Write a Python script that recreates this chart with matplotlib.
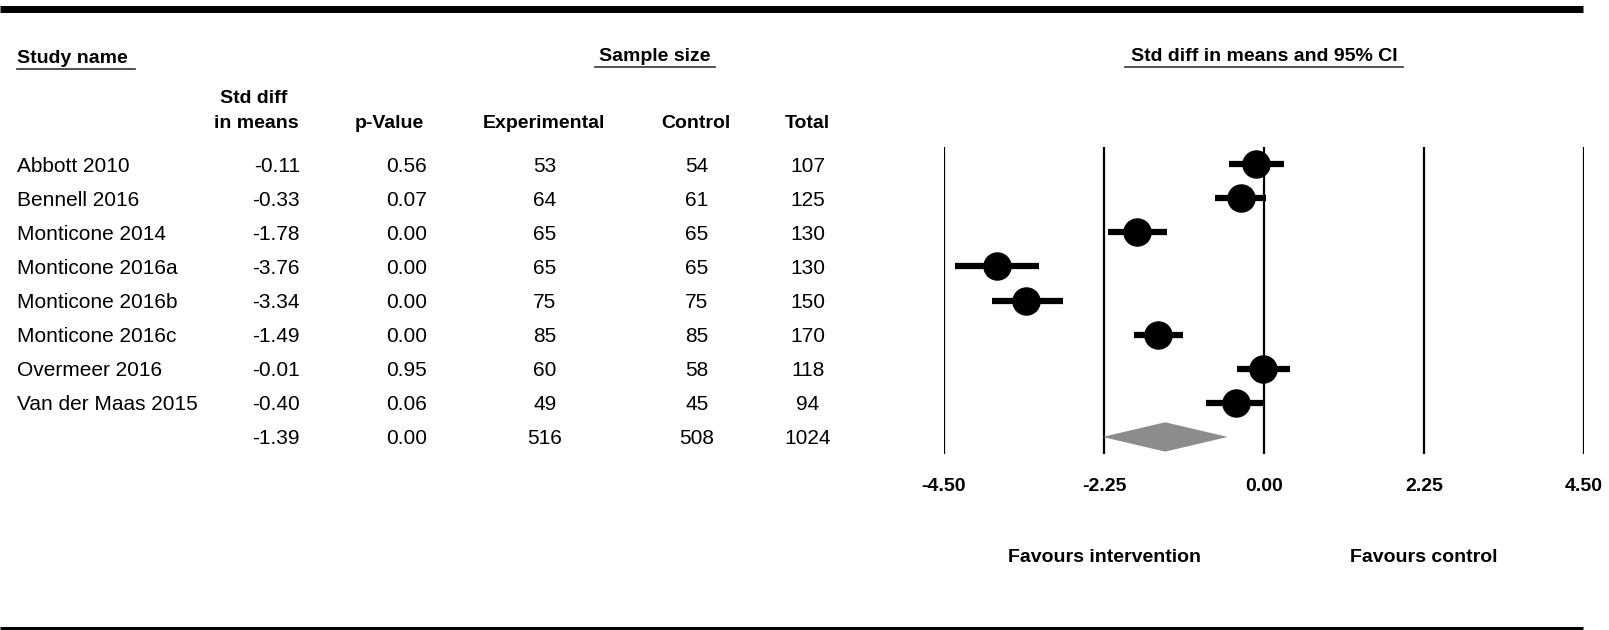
import numpy as np
import matplotlib.pyplot as plt
from matplotlib.patches import Polygon
from matplotlib.transforms import blended_transform_factory

plt.rcParams['font.family'] = ['Liberation Sans', 'DejaVu Sans']

# study level results
studies = ['Abbott 2010', 'Bennell 2016', 'Monticone 2014', 'Monticone 2016a',
           'Monticone 2016b', 'Monticone 2016c', 'Overmeer 2016', 'Van der Maas 2015']
smd = [-0.11, -0.33, -1.78, -3.76, -3.34, -1.49, -0.01, -0.40]
ci_lo = [-0.49, -0.69, -2.19, -4.34, -3.83, -1.83, -0.38, -0.81]
ci_hi = [0.28, 0.03, -1.36, -3.16, -2.83, -1.14, 0.36, 0.01]
p_vals = [0.56, 0.07, 0.00, 0.00, 0.00, 0.00, 0.95, 0.06]
n_exp = [53, 64, 65, 65, 75, 85, 60, 49]
n_ctl = [54, 61, 65, 65, 75, 85, 58, 45]

# pooled estimate
pooled_smd = -1.39
pooled_lo = -2.27
pooled_hi = -0.51
pooled_p = 0.00

ticks = [-4.5, -2.25, 0.0, 2.25, 4.5]
tick_labels = ['-4.50', '-2.25', '0.00', '2.25', '4.50']

W, H = 1609, 630
fig = plt.figure(figsize=(W / 100, H / 100), dpi=100)

# page axes in pixel units for the table and rules
ax = fig.add_axes([0, 0, 1, 1])
ax.set_xlim(0, W)
ax.set_ylim(H, 0)
ax.axis('off')

# forest panel
px0, px1, py0, py1 = 944, 1584, 147, 454
fx = fig.add_axes([px0 / W, 1 - py1 / H, (px1 - px0) / W, (py1 - py0) / H])
n_rows = len(studies) + 1
fx.set_xlim(-4.5, 4.5)
fx.set_ylim(n_rows - 0.5, -0.5)
fx.patch.set_visible(False)
for s in fx.spines.values():
    s.set_visible(False)
fx.set_yticks([])
fx.set_xticks(ticks)
fx.set_xticklabels(tick_labels, fontweight='bold', fontsize=14)
fx.tick_params(axis='x', length=0, pad=17)

for t in ticks:
    fx.axvline(t, color='black', lw=1.6, zorder=1)

rows = np.arange(len(studies))
fx.hlines(rows, ci_lo, ci_hi, color='black', lw=4.5, zorder=3, clip_on=False)
fx.plot(smd, rows, 'o', color='black', ms=19.5, zorder=4, clip_on=False)

k = len(studies)
diamond = Polygon([[pooled_lo, k], [pooled_smd, k - 0.43],
                   [pooled_hi, k], [pooled_smd, k + 0.43]],
                  closed=True, facecolor='#8c8c8c', edgecolor='none', zorder=2)
fx.add_patch(diamond)

# favours labels under the axis
tr = blended_transform_factory(fx.transData, ax.transData)
fx.text(-2.25, 561.5, 'Favours intervention', transform=tr, ha='center',
        va='baseline', fontsize=14, fontweight='bold')
fx.text(2.25, 561.5, 'Favours control', transform=tr, ha='center',
        va='baseline', fontsize=14, fontweight='bold')

# rules
ax.plot([0, 1583], [9, 9], color='black', lw=5, solid_capstyle='butt')
ax.plot([0, 1583], [627.5, 627.5], color='black', lw=2.2, solid_capstyle='butt')

# headers
hdr = dict(fontsize=14, fontweight='bold', va='baseline')
ax.text(17, 63, 'Study name', ha='left', **hdr)
ax.plot([17, 135], [69.3, 69.3], color='#333333', lw=1.2)
ax.text(655, 61, 'Sample size', ha='center', **hdr)
ax.plot([595, 715], [66.7, 66.7], color='#333333', lw=1.2)
ax.text(1264, 61, 'Std diff in means and 95% CI', ha='center', **hdr)
ax.plot([1125, 1403], [66.7, 66.7], color='#333333', lw=1.2)

ax.text(254, 103.3, 'Std diff', ha='center', **hdr)
ax.text(256, 127.7, 'in means', ha='center', **hdr)
ax.text(389, 127.7, 'p-Value', ha='center', **hdr)
ax.text(544, 127.7, 'Experimental', ha='center', **hdr)
ax.text(696, 127.7, 'Control', ha='center', **hdr)
ax.text(807, 127.7, 'Total', ha='center', **hdr)

# table body
names = studies + ['']
col_smd = smd + [pooled_smd]
col_p = p_vals + [pooled_p]
col_exp = n_exp + [sum(n_exp)]
col_ctl = n_ctl + [sum(n_ctl)]
body = dict(fontsize=15, va='baseline')
for i in range(n_rows):
    yb = py0 + (i + 0.5) * (py1 - py0) / n_rows + 7.5
    ax.text(17, yb, names[i], ha='left', **body)
    ax.text(300, yb, f'{col_smd[i]:.2f}', ha='right', **body)
    ax.text(427, yb, f'{col_p[i]:.2f}', ha='right', **body)
    ax.text(545, yb, f'{col_exp[i]}', ha='center', **body)
    ax.text(697, yb, f'{col_ctl[i]}', ha='center', **body)
    ax.text(808, yb, f'{col_exp[i] + col_ctl[i]}', ha='center', **body)

fig.savefig('out.png', dpi=100)
